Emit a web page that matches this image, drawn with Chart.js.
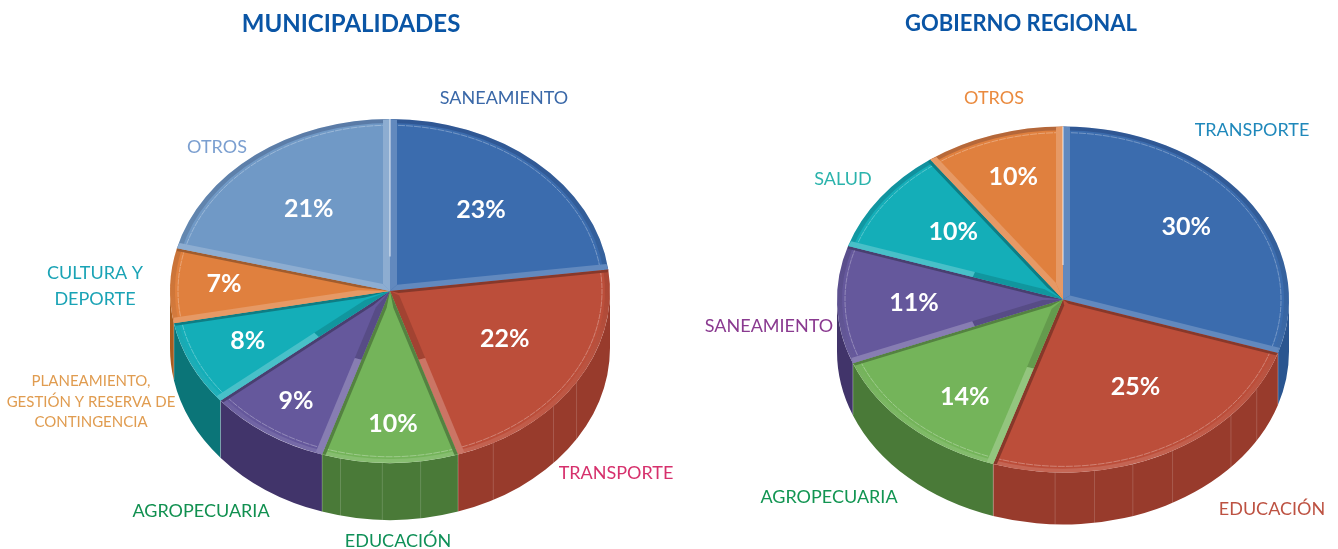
<!DOCTYPE html>
<html>
<head>
<meta charset="utf-8">
<script src="https://cdn.jsdelivr.net/npm/chart.js@4"></script>
<style>
  html, body { margin: 0; padding: 0; background: #fff; overflow: hidden; }
  canvas { position: absolute; top: 0; }
  #chartMuni { left: 0; }
  #chartGore { left: 680px; }
</style>
</head>
<body>
<canvas id="chartMuni" width="680" height="549"></canvas>
<canvas id="chartGore" width="658" height="549"></canvas>
<script>
const muniLabels = ['SANEAMIENTO', 'TRANSPORTE', 'EDUCACIÓN', 'AGROPECUARIA', 'PLANEAMIENTO, GESTIÓN Y RESERVA DE CONTINGENCIA', 'CULTURA Y DEPORTE', 'OTROS'];
const muniValues = [23, 22, 10, 9, 8, 7, 21];
const goreLabels = ['TRANSPORTE', 'EDUCACIÓN', 'AGROPECUARIA', 'SANEAMIENTO', 'SALUD', 'OTROS'];
const goreValues = [30, 25, 14, 11, 10, 10];

const muniColors = ['#3b6cae', '#bc4e3a', '#74b45a', '#65589c', '#14aeb8', '#e0803e', '#7099c6'];
const muniWalls = ['#2a5590', '#983b2c', '#4a7a38', '#41346a', '#0b7578', '#a85c20', '#557ba8'];
const goreColors = ['#3b6cae', '#bc4e3a', '#74b45a', '#65589c', '#14aeb8', '#e0803e'];
const goreWalls = ['#2a5590', '#983b2c', '#4a7a38', '#41346a', '#0b7578', '#a85c20'];

// 2 = light all along, 1 = light on the outer part, -1 = dark, for [start edge, end edge]
const muniEdges = [[2, 2], [-1, 1], [-1, -1], [1, -1], [1, -1], [2, -1], [2, 2]];
const goreEdges = [[2, 2], [-1, -1], [1, -1], [1, -1], [1, -1], [2, 2]];

// small shifts of the percentage text
const muniPctNudge = [[-2, 2], [7, -6], [3, 2], [0, 2], [-3, -1], [-1, -3], [1, 1]];
const gorePctNudge = [[-3, -2], [9, -8], [10, 9], [0, 0], [9, -1], [4, 4]];

const FONT = 'Lato, Carlito, sans-serif';

function shade(hex, amt) {
  const n = parseInt(hex.slice(1), 16);
  const mix = c => Math.round(amt > 0 ? c + (255 - c) * amt : c * (1 + amt));
  return `rgb(${mix(n >> 16)},${mix((n >> 8) & 255)},${mix(n & 255)})`;
}

function wallPath(ctx, cx, cy, rx, ry, d, a0, a1) {
  ctx.beginPath();
  ctx.ellipse(cx, cy, rx, ry, 0, a0, a1);
  ctx.ellipse(cx, cy + d, rx, ry, 0, a1, a0, true);
  ctx.closePath();
}

function edgeStrip(ctx, arc, angle, side, w, tone, color) {
  const R = arc.outerRadius;
  const dx = Math.cos(angle), dy = Math.sin(angle);
  const nx = -dy * side, ny = dx * side;
  const half = (arc.endAngle - arc.startAngle) / 2;
  const s = Math.min(w / Math.tan(half), R * 0.5);
  const at = (t, o) => [arc.x + dx * t + nx * o, arc.y + dy * t + ny * o];
  const poly = (pts, fill) => {
    ctx.beginPath();
    pts.forEach((p, i) => i ? ctx.lineTo(p[0], p[1]) : ctx.moveTo(p[0], p[1]));
    ctx.closePath();
    ctx.fillStyle = fill;
    ctx.fill();
  };
  const split = Math.max(s, R * 0.42);
  if (tone === 2) {
    poly([at(0, 0), at(R, 0), at(R - 1, w), at(s, w)], shade(color, 0.2));
  } else if (tone === 1) {
    poly([at(0, 0), at(split, 0), at(split, w), at(s, w)], shade(color, -0.14));
    poly([at(split, 0), at(R, 0), at(R - 1, w), at(split, w)], shade(color, 0.22));
  } else {
    poly([at(0, 0), at(R, 0), at(R - 1, w * 0.5), at(s, w * 0.5)], shade(color, -0.28));
  }
}

const pie3d = {
  id: 'pie3d',
  beforeDatasetsDraw(chart, args, opts) {
    const ctx = chart.ctx;
    const arcs = chart.getDatasetMeta(0).data;
    const first = arcs[0];
    const rx = first.outerRadius;
    const ox = first.x;

    // side walls, only the front half of the ellipse is visible
    arcs.forEach((arc, i) => {
      const a0 = Math.max(arc.startAngle, 0);
      const a1 = Math.min(arc.endAngle, Math.PI);
      if (a1 <= a0) return;
      wallPath(ctx, ox, opts.cy, rx, opts.ry, opts.depth, a0, a1);
      ctx.fillStyle = opts.walls[i];
      ctx.fill();
      ctx.strokeStyle = 'rgba(255,255,255,0.25)';
      ctx.lineWidth = 0.7;
      [a0, a1].forEach(a => {
        if (a === 0 || a === Math.PI) return;
        const x = ox + Math.cos(a) * rx, y = opts.cy + Math.sin(a) * opts.ry;
        ctx.beginPath();
        ctx.moveTo(x, y);
        ctx.lineTo(x, y + opts.depth);
        ctx.stroke();
      });
    });

    // faint seams on the wall
    ctx.strokeStyle = 'rgba(255,255,255,0.16)';
    ctx.lineWidth = 1;
    opts.seams.forEach(deg => {
      const a = Math.PI / 2 - deg * Math.PI / 180;
      const x = ox + Math.cos(a) * rx, y = opts.cy + Math.sin(a) * opts.ry;
      ctx.beginPath();
      ctx.moveTo(x, y);
      ctx.lineTo(x, y + opts.depth);
      ctx.stroke();
    });

    // everything on the top face is drawn in circle space and squashed
    ctx.save();
    ctx.translate(ox, opts.cy);
    ctx.scale(1, opts.ry / rx);
    ctx.translate(-ox, -first.y);
  },
  afterDatasetsDraw(chart, args, opts) {
    const ctx = chart.ctx;
    const arcs = chart.getDatasetMeta(0).data;
    const colors = chart.data.datasets[0].backgroundColor;

    arcs.forEach(arc => {
      const R = arc.outerRadius;
      const grad = ctx.createLinearGradient(0, arc.y - R, 0, arc.y + R);
      grad.addColorStop(0, 'rgba(0,0,40,0.2)');
      grad.addColorStop(0.5, 'rgba(0,0,0,0.08)');
      grad.addColorStop(0.85, 'rgba(255,255,255,0.06)');
      grad.addColorStop(1, 'rgba(255,255,255,0.14)');
      ctx.beginPath();
      ctx.arc(arc.x, arc.y, R - 2.5, arc.startAngle, arc.endAngle);
      ctx.strokeStyle = grad;
      ctx.lineWidth = 5;
      ctx.stroke();

      ctx.beginPath();
      ctx.arc(arc.x, arc.y, R - 8, arc.startAngle, arc.endAngle);
      ctx.strokeStyle = 'rgba(255,255,255,0.42)';
      ctx.lineWidth = 0.8;
      ctx.setLineDash([7, 1]);
      ctx.stroke();
      ctx.setLineDash([]);
    });

    arcs.forEach((arc, i) => {
      edgeStrip(ctx, arc, arc.startAngle, 1, 7, opts.edges[i][0], colors[i]);
      edgeStrip(ctx, arc, arc.endAngle, -1, 7, opts.edges[i][1], colors[i]);
    });

    // thin gap at twelve o'clock
    const top = arcs[0];
    ctx.beginPath();
    ctx.moveTo(top.x, top.y - top.outerRadius * 0.2);
    ctx.lineTo(top.x, top.y - top.outerRadius);
    ctx.strokeStyle = 'rgba(255,255,255,0.55)';
    ctx.lineWidth = 1.5;
    ctx.stroke();
    ctx.restore();

    // percentages
    const k = opts.ry / arcs[0].outerRadius;
    ctx.fillStyle = '#fff';
    ctx.font = `bold 25px ${FONT}`;
    ctx.textAlign = 'center';
    ctx.textBaseline = 'middle';
    const values = chart.data.datasets[0].data;
    arcs.forEach((arc, i) => {
      const mid = (arc.startAngle + arc.endAngle) / 2;
      const t = arc.outerRadius * opts.pctRadius[i];
      ctx.fillText(values[i] + '%',
        arc.x + Math.cos(mid) * t + opts.pctNudge[i][0],
        opts.cy + Math.sin(mid) * t * k + opts.pctNudge[i][1]);
    });
  },
  afterDraw(chart, args, opts) {
    const ctx = chart.ctx;
    ctx.textAlign = 'center';
    ctx.textBaseline = 'middle';
    ctx.fillStyle = opts.titleColor;
    ctx.font = `bold ${opts.titleSize}px ${FONT}`;
    ctx.fillText(opts.title, opts.titleX, opts.titleY);
    opts.outer.forEach(l => {
      ctx.fillStyle = l.color;
      ctx.font = `${l.size}px ${FONT}`;
      l.lines.forEach((txt, j) => ctx.fillText(txt, l.x, l.y + j * l.lead));
    });
  }
};
Chart.register(pie3d);

function draw(id, labels, values, colors, padding, cfg) {
  new Chart(document.getElementById(id), {
    type: 'pie',
    data: {
      labels,
      datasets: [{ data: values, backgroundColor: colors, borderWidth: 0, clip: false }]
    },
    options: {
      responsive: false,
      animation: false,
      layout: { padding },
      plugins: {
        legend: { display: false },
        tooltip: { enabled: false },
        pie3d: cfg
      }
    }
  });
}

draw('chartMuni', muniLabels, muniValues, muniColors,
  { left: 170, right: 70, top: 54, bottom: 55 },
  {
    cy: 291, ry: 172, depth: 57,
    walls: muniWalls,
    edges: muniEdges,
    seams: [-13, -2, 8, 28, 48, 58],
    pctRadius: [0.64, 0.58, 0.76, 0.76, 0.70, 0.75, 0.61],
    pctNudge: muniPctNudge,
    title: 'MUNICIPALIDADES', titleX: 351, titleY: 24, titleSize: 24, titleColor: '#0a55a5',
    outer: [
      { lines: ['SANEAMIENTO'], x: 504, y: 98, size: 18, lead: 0, color: '#3a68a8' },
      { lines: ['TRANSPORTE'], x: 616, y: 473, size: 18, lead: 0, color: '#d6306c' },
      { lines: ['EDUCACIÓN'], x: 398, y: 541, size: 18, lead: 0, color: '#0f9058' },
      { lines: ['AGROPECUARIA'], x: 201, y: 511, size: 18, lead: 0, color: '#119050' },
      { lines: ['PLANEAMIENTO,', 'GESTIÓN Y RESERVA DE', 'CONTINGENCIA'], x: 91, y: 381, size: 15, lead: 20.7, color: '#e09c50' },
      { lines: ['CULTURA Y', 'DEPORTE'], x: 95, y: 273, size: 18, lead: 26, color: '#1aa3b5' },
      { lines: ['OTROS'], x: 217, y: 147, size: 18, lead: 0, color: '#7b9fd0' }
    ]
  });

draw('chartGore', goreLabels, goreValues, goreColors,
  { left: 157, right: 49, top: 48, bottom: 49 },
  {
    cy: 299.5, ry: 173, depth: 52,
    walls: goreWalls,
    edges: goreEdges,
    seams: [-2, 8, 18, 29, 48, 59],
    pctRadius: [0.69, 0.62, 0.70, 0.66, 0.65, 0.77],
    pctNudge: gorePctNudge,
    title: 'GOBIERNO REGIONAL', titleX: 341, titleY: 23.5, titleSize: 22, titleColor: '#0a55a5',
    outer: [
      { lines: ['TRANSPORTE'], x: 572, y: 130, size: 18, lead: 0, color: '#1f88bb' },
      { lines: ['EDUCACIÓN'], x: 592, y: 509, size: 18, lead: 0, color: '#bd5242' },
      { lines: ['AGROPECUARIA'], x: 149, y: 497, size: 18, lead: 0, color: '#129552' },
      { lines: ['SANEAMIENTO'], x: 89, y: 326, size: 18, lead: 0, color: '#8a3a90' },
      { lines: ['SALUD'], x: 163, y: 179, size: 18, lead: 0, color: '#2bb3ac' },
      { lines: ['OTROS'], x: 314, y: 98, size: 18, lead: 0, color: '#ea8a3e' }
    ]
  });
</script>
</body>
</html>
